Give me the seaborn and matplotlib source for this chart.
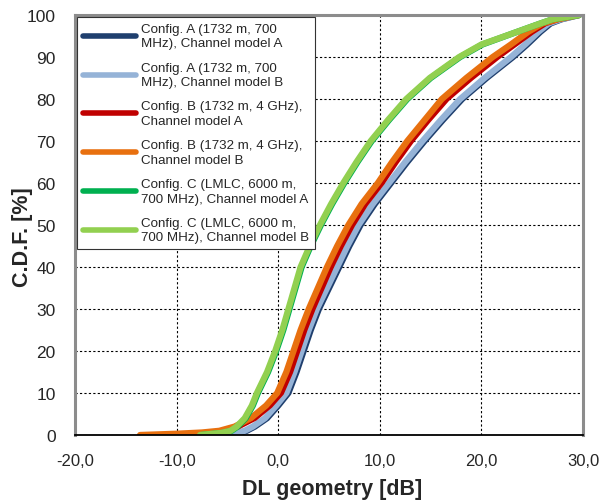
import matplotlib
matplotlib.use("Agg")
import matplotlib.pyplot as plt
import seaborn as sns
import pandas as pd
from matplotlib.ticker import FuncFormatter

sns.set_style("white")
plt.rcParams['font.family'] = ['Liberation Sans', 'DejaVu Sans']

# series labels (as in the legend)
labels = [
    "Config. A (1732 m, 700\nMHz), Channel model A",
    "Config. A (1732 m, 700\nMHz), Channel model B",
    "Config. B (1732 m, 4 GHz),\nChannel model A",
    "Config. B (1732 m, 4 GHz),\nChannel model B",
    "Config. C (LMLC, 6000 m,\n700 MHz), Channel model A",
    "Config. C (LMLC, 6000 m,\n700 MHz), Channel model B",
]
colors = ["#1F3F6E", "#95B3D7", "#C00000", "#E8700F", "#00B050", "#92D050"]

# CDF levels [%] and DL geometry [dB]
cdf_a = [0, 0.5, 1, 2, 4, 7, 10, 15, 20, 25, 30, 35, 40, 45, 50, 55, 60, 65, 70, 75, 80, 85, 90, 93, 96, 98, 99, 100]
a_ch_a = [-5.3, -3.8, -3.1, -2.3, -1.1, 0.0, 1.0, 1.8, 2.5, 3.2, 4.0, 5.0, 6.0, 7.0, 8.1, 9.5, 11.1, 12.7, 14.4, 16.2, 18.1, 20.5, 23.1, 24.5, 25.8, 26.8, 27.9, 29.6]
a_ch_b = [-5.5, -4.0, -3.3, -2.5, -1.3, -0.2, 0.8, 1.6, 2.3, 3.0, 3.8, 4.8, 5.8, 6.8, 7.9, 9.3, 10.9, 12.5, 14.2, 16.0, 17.9, 20.3, 22.9, 24.3, 25.6, 26.6, 27.8, 29.6]

cdf_b = [0, 0.5, 1, 2, 4, 7, 10, 15, 20, 25, 30, 35, 40, 45, 50, 55, 60, 65, 70, 75, 80, 85, 90, 93, 96, 98, 99, 100]
b_ch_a = [-10.0, -7.0, -5.3, -3.9, -2.3, -0.8, 0.3, 1.2, 1.9, 2.6, 3.4, 4.3, 5.2, 6.2, 7.3, 8.6, 10.2, 11.6, 13.1, 14.8, 16.6, 19.0, 21.6, 23.3, 25.0, 26.3, 27.6, 29.6]
cdf_b2 = [0, 0.3, 0.6, 1, 2, 4, 7, 10, 15, 20, 25, 30, 35, 40, 45, 50, 55, 60, 65, 70, 75, 80, 85, 90, 93, 96, 98, 99, 100]
b_ch_b = [-13.6, -10.0, -7.5, -5.8, -4.3, -2.7, -1.2, -0.1, 0.8, 1.5, 2.2, 3.0, 3.9, 4.8, 5.8, 6.9, 8.2, 9.8, 11.2, 12.7, 14.4, 16.1, 18.5, 21.1, 22.9, 24.6, 26.0, 27.5, 29.6]

cdf_c = [0, 0.5, 1, 2, 4, 7, 10, 15, 20, 25, 30, 35, 40, 45, 50, 55, 60, 65, 70, 75, 80, 85, 90, 93, 96, 98, 99, 100]
c_ch_a = [-7.6, -5.5, -4.6, -4.0, -3.2, -2.5, -2.0, -1.0, -0.2, 0.5, 1.1, 1.7, 2.3, 3.2, 4.2, 5.3, 6.5, 7.8, 9.2, 10.9, 12.7, 15.0, 17.9, 20.1, 23.5, 25.8, 27.0, 29.6]
c_ch_b = [-7.7, -5.6, -4.7, -4.1, -3.3, -2.6, -2.1, -1.1, -0.3, 0.4, 1.0, 1.6, 2.2, 3.1, 4.1, 5.2, 6.4, 7.7, 9.1, 10.8, 12.6, 14.9, 17.8, 20.0, 23.5, 25.8, 27.0, 29.6]

xs = [a_ch_a, a_ch_b, b_ch_a, b_ch_b, c_ch_a, c_ch_b]
ys = [cdf_a, cdf_a, cdf_b, cdf_b2, cdf_c, cdf_c]
widths = [4.5, 4.5, 4.0, 4.5, 4.5, 4.5]

fig = plt.figure(figsize=(6.08, 5.02), dpi=100)
ax = fig.add_axes([0.1234, 0.1315, 0.8356, 0.8365])

for lab, c, x, y, w in zip(labels, colors, xs, ys, widths):
    df = pd.DataFrame({"x": x, "y": y})
    sns.lineplot(data=df, x="x", y="y", ax=ax, color=c, lw=w, label=lab,
                 sort=False, estimator=None, solid_joinstyle="round",
                 solid_capstyle="round")

ax.set_xlim(-20, 30)
ax.set_ylim(0, 100)
ax.set_xticks([-20, -10, 0, 10, 20, 30])
ax.set_yticks(range(0, 101, 10))
ax.xaxis.set_major_formatter(FuncFormatter(lambda v, p: f"{v:.1f}".replace(".", ",")))
ax.tick_params(axis="x", labelsize=12, length=4, direction="out", color="#808080", pad=9)
ax.tick_params(axis="y", labelsize=12.5, length=0, pad=14)

ax.grid(True, color="black", linestyle=(0, (2, 2)), linewidth=0.8)
for s in ["left", "right", "top"]:
    ax.spines[s].set_color("#8c8c8c")
    ax.spines[s].set_linewidth(2.2)
ax.spines["bottom"].set_color("black")
ax.spines["bottom"].set_linewidth(1.3)

ax.set_xlabel("DL geometry [dB]", fontsize=15.5, fontweight="bold")
ax.set_ylabel("C.D.F. [%]", fontsize=15.5, fontweight="bold")
ax.xaxis.set_label_coords(0.506, -0.103)
ax.yaxis.set_label_coords(-0.083, 0.473)

leg = ax.legend(loc="upper left", fontsize=9.6, frameon=True, fancybox=False,
                edgecolor="#333333", borderaxespad=0.12, handlelength=4.0,
                labelspacing=0.95, borderpad=0.45, handletextpad=0.35)
for t in leg.get_texts():
    t.set_linespacing(1.25)
for h in leg.get_lines():
    h.set_linewidth(4)
leg.get_frame().set_linewidth(0.8)
leg.get_frame().set_alpha(1)

fig.savefig("out.png", dpi=100)
